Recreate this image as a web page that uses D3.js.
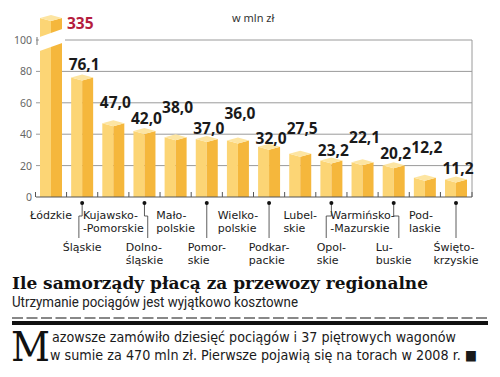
<!DOCTYPE html>
<html>
<head>
<meta charset="utf-8">
<script src="https://cdn.jsdelivr.net/npm/d3@7"></script>
<style>
  body { margin: 0; background: #fff; }
  svg { display: block; }
</style>
</head>
<body>
<div id="chart"></div>
<script>
// data
const categories = ["Łódzkie", "Śląskie", "Kujawsko-Pomorskie", "Dolnośląskie", "Małopolskie", "Pomorskie",
    "Wielkopolskie", "Podkarpackie", "Lubelskie", "Opolskie", "Warmińsko-Mazurskie", "Lubuskie",
    "Podlaskie", "Świętokrzyskie"];
const values = [335, 76.1, 47.0, 42.0, 38.0, 37.0, 36.0, 32.0, 27.5, 23.2, 22.1, 20.2, 12.2, 11.2];
const labelLines = [["Łódzkie"], ["Śląskie"], ["Kujawsko-", "-Pomorskie"], ["Dolno-", "śląskie"],
    ["Mało-", "polskie"], ["Pomor-", "skie"], ["Wielko-", "polskie"], ["Podkar-", "packie"],
    ["Lubel-", "skie"], ["Opol-", "skie"], ["Warmińsko-", "-Mazurskie"], ["Lu-", "buskie"],
    ["Pod-", "laskie"], ["Święto-", "krzyskie"]];
const yTicks = [0, 20, 40, 60, 80, 100];

const unit = "w mln zł";
const title = "Ile samorządy płacą za przewozy regionalne";
const subtitle = "Utrzymanie pociągów jest wyjątkowo kosztowne";
const bodyCap = "M";
const bodyLines = ["azowsze zamówiło dziesięć pociągów i 37 piętrowych wagonów",
    "w sumie za 470 mln zł. Pierwsze pojawią się na torach w 2008 r. ■"];

// how high each value label sits over its bar (px), staggered so they don't collide
const labelRaise = [0, 8, 15, 7, 24, 5, 21, 3, 20, 5, 19, 6, 25, 5];

const W = 500, H = 377;
const svg = d3.select("#chart").append("svg")
    .attr("width", W)
    .attr("height", H);

const y = d3.scaleLinear().domain([0, 100]).range([197, 40]);
const x = d3.scalePoint().domain(categories).range([51, 456]);
const bw = 22;
const y0 = y(0);

const fmt = d3.formatLocale({decimal: ",", thousands: " ", grouping: [3], currency: ["", ""]}).format(".1f");

const cLeft = "#fcd575", cRight = "#f5b73c", cTop = "#fde5a2";

// grid
const grid = svg.append("g");
grid.selectAll("line")
    .data(yTicks.filter(d => d > 0))
    .enter().append("line")
    .attr("x1", 36).attr("x2", 472)
    .attr("y1", d => y(d)).attr("y2", d => y(d))
    .attr("stroke", "#9a9a9a").attr("stroke-width", 1);
grid.append("line")
    .attr("x1", 472).attr("x2", 472)
    .attr("y1", y(100)).attr("y2", y0)
    .attr("stroke", "#9a9a9a");
grid.append("line")
    .attr("x1", 37).attr("x2", 37)
    .attr("y1", y(100) - 3).attr("y2", y(100) + 5)
    .attr("stroke", "#777");

svg.append("g").selectAll("text")
    .data(yTicks)
    .enter().append("text")
    .attr("x", 32)
    .attr("y", d => y(d) + 4)
    .attr("text-anchor", "end")
    .attr("font-family", "Noto Sans")
    .attr("font-size", 10.5)
    .attr("fill", "#666")
    .text(d => d);

// bars
function drawBox(g, cx, top, bottom) {
    const x0 = cx - bw / 2, x1 = cx + bw / 2;
    g.append("polygon")
        .attr("points", [[x0, top], [cx, top + 3], [cx, bottom], [x0, bottom]].join(" "))
        .attr("fill", cLeft);
    g.append("polygon")
        .attr("points", [[cx, top + 3], [x1, top], [x1, bottom], [cx, bottom]].join(" "))
        .attr("fill", cRight);
    g.append("polygon")
        .attr("points", [[x0, top], [cx, top - 3], [x1, top], [cx, top + 3]].join(" "))
        .attr("fill", cTop);
}

const bars = svg.append("g");
categories.forEach((c, i) => {
    const cx = x(c);
    const g = bars.append("g");
    const v = values[i];
    if (v > y.domain()[1]) {
        // broken bar
        drawBox(g, cx, y(100) - 22, y0);
        const x0 = cx - bw / 2 - 1, x1 = cx + bw / 2 + 3;
        const yc = y(100), s = 0.36;
        g.append("polygon")
            .attr("points", [[x0, yc - 7 - s * (x0 - cx)], [x1, yc - 7 - s * (x1 - cx)],
                [x1, yc + 7 - s * (x1 - cx)], [x0, yc + 7 - s * (x0 - cx)]].join(" "))
            .attr("fill", "#fff");
    } else {
        drawBox(g, cx, y(v), y0);
    }
});

// x axis
const bounds = [35.5].concat(categories.slice(1).map((c, i) => (x(c) + x(categories[i])) / 2), [472]);
const xa = svg.append("g");
xa.append("line")
    .attr("x1", 36).attr("x2", 472)
    .attr("y1", y0).attr("y2", y0)
    .attr("stroke", "#555").attr("stroke-width", 1);
xa.selectAll(".tk")
    .data(bounds)
    .enter().append("line")
    .attr("x1", d => d).attr("x2", d => d)
    .attr("y1", y0 - 5).attr("y2", y0)
    .attr("stroke", "#555");

// value labels
const vl = svg.append("g")
    .attr("font-family", "Noto Sans")
    .attr("font-weight", "bold")
    .attr("font-size", 15.5);
categories.forEach((c, i) => {
    const v = values[i];
    if (v > y.domain()[1]) {
        vl.append("text")
            .attr("x", x(c) + bw / 2 + 5)
            .attr("y", y(100) - 11)
            .attr("fill", "#b51d3e")
            .text(d3.format("d")(v));
    } else {
        vl.append("text")
            .attr("x", x(c) + 2)
            .attr("y", y(v) - labelRaise[i])
            .attr("text-anchor", "middle")
            .attr("fill", "#1a1a1a")
            .text(fmt(v));
    }
});

// category labels, one text per line, block centred under the bar
const cl = svg.append("g")
    .attr("font-family", "DejaVu Sans")
    .attr("font-size", 11)
    .attr("fill", "#1a1a1a");
const boxes = [];
categories.forEach((c, i) => {
    const low = i % 2 === 1;
    const base = low ? 251 : 219;
    const ts = labelLines[i].map((ln, j) => cl.append("text")
        .attr("y", base + j * 13)
        .text(ln));
    const wmax = d3.max(ts, t => t.node().getComputedTextLength());
    const left = x(c) - wmax / 2;
    ts.forEach(t => t.attr("x", left));
    boxes[i] = {left: left, right: left + wmax};
});

// leader lines for the lower row
const ld = svg.append("g");
categories.forEach((c, i) => {
    if (i % 2 === 0) return;
    const cx = x(c);
    let tx = cx;
    if (boxes[i - 1] && cx < boxes[i - 1].right + 3) tx = boxes[i - 1].right + 4;
    if (boxes[i + 1] && cx > boxes[i + 1].left - 3) tx = boxes[i + 1].left - 4;
    const p = tx === cx
        ? [[cx, 203], [cx, 238]]
        : [[cx, 203], [cx, 216], [tx, 216], [tx, 238]];
    ld.append("path")
        .attr("d", d3.line()(p))
        .attr("fill", "none")
        .attr("stroke", "#333")
        .attr("stroke-width", 0.8);
    ld.append("circle")
        .attr("cx", cx).attr("cy", 203).attr("r", 2)
        .attr("fill", "#111");
});

svg.append("text")
    .attr("x", 232).attr("y", 22)
    .attr("font-family", "Noto Sans")
    .attr("font-size", 11)
    .attr("fill", "#333")
    .text(unit);

// titles
svg.append("text")
    .attr("x", 12).attr("y", 289)
    .attr("font-family", "DejaVu Serif")
    .attr("font-weight", "bold")
    .attr("font-size", 17.5)
    .attr("fill", "#111")
    .attr("textLength", 416)
    .attr("lengthAdjust", "spacingAndGlyphs")
    .text(title);
svg.append("text")
    .attr("x", 12).attr("y", 307)
    .attr("font-family", "Roboto")
    .attr("font-size", 14)
    .attr("fill", "#222")
    .attr("textLength", 286)
    .attr("lengthAdjust", "spacingAndGlyphs")
    .text(subtitle);

svg.append("line")
    .attr("x1", 12).attr("x2", 488)
    .attr("y1", 318).attr("y2", 318)
    .attr("stroke", "#888").attr("stroke-width", 2)
    .attr("stroke-dasharray", "11,3.5");
svg.append("line")
    .attr("x1", 12).attr("x2", 488)
    .attr("y1", 323).attr("y2", 323)
    .attr("stroke", "#111").attr("stroke-width", 4);

// body text with drop cap
svg.append("text")
    .attr("x", 11).attr("y", 361)
    .attr("font-family", "DejaVu Serif")
    .attr("font-size", 41)
    .attr("fill", "#111")
    .attr("textLength", 39)
    .attr("lengthAdjust", "spacingAndGlyphs")
    .text(bodyCap);
const bodyX = [52, 50], bodyY = [342, 360], bodyW = [404, 427];
bodyLines.forEach((ln, i) => {
    svg.append("text")
        .attr("x", bodyX[i]).attr("y", bodyY[i])
        .attr("font-family", "DejaVu Sans")
        .attr("font-size", 13.5)
        .attr("fill", "#1a1a1a")
        .attr("textLength", bodyW[i])
        .attr("lengthAdjust", "spacingAndGlyphs")
        .text(ln);
});
</script>
</body>
</html>
